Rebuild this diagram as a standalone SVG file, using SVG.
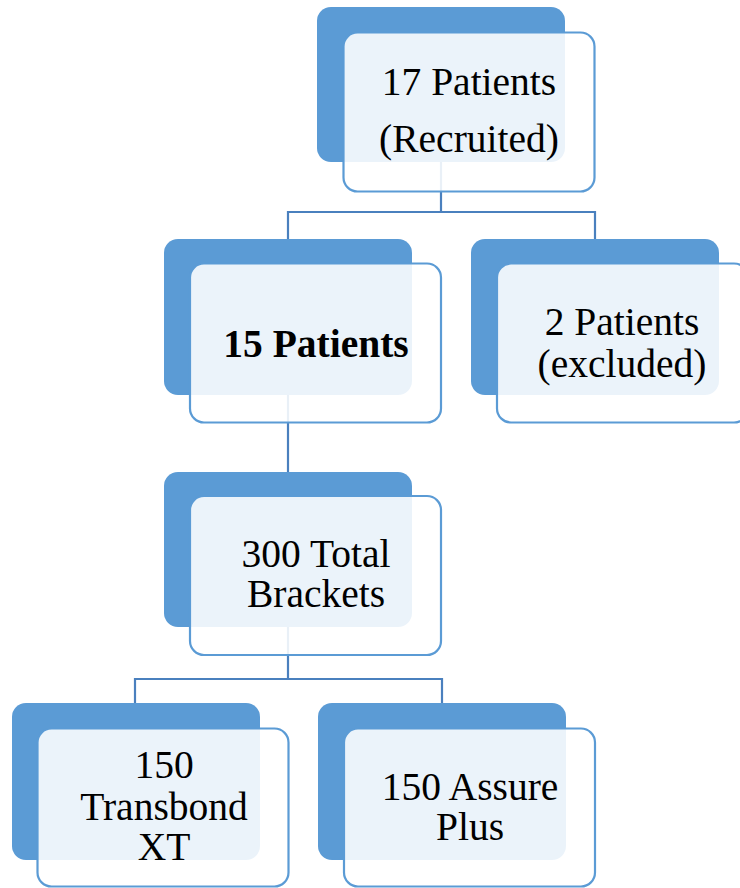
<svg xmlns="http://www.w3.org/2000/svg" width="740" height="888" viewBox="0 0 740 888">
<style>
.back{fill:#5B9BD5;}
.front{fill:#FFFFFF;fill-opacity:0.88;stroke:#5B9BD5;stroke-width:2.2;}
.conn{fill:none;stroke:#4A80BE;stroke-width:2.2;}
text{font-family:"Liberation Serif","Times New Roman",serif;font-size:39.5px;fill:#000;text-anchor:middle;}
.b{font-weight:bold;}
</style>
<rect width="740" height="888" fill="#FFFFFF"/>
<g id="connectors">
<path class="conn" d="M441,162 V212 M288,239 V212 H595 V239"/>
<path class="conn" d="M288,395 V472"/>
<path class="conn" d="M288,627 V679 M135,703 V679 H442 V703"/>
</g>
<g id="n1">
<rect class="back" x="317" y="7" width="248" height="155" rx="14"/>
<rect class="front" x="343.5" y="32.5" width="251" height="159" rx="14"/>
<text x="469" y="95">17 Patients</text>
<text x="469" y="152">(Recruited)</text>
</g>
<g id="n2">
<rect class="back" x="164" y="239" width="248" height="156" rx="14"/>
<rect class="front" x="190" y="263.5" width="251" height="159" rx="14"/>
<text class="b" x="316" y="357">15 Patients</text>
</g>
<g id="n3">
<rect class="back" x="471" y="239" width="248" height="156" rx="14"/>
<rect class="front" x="497" y="263.5" width="251" height="159" rx="14"/>
<text x="622" y="335">2 Patients</text>
<text x="622" y="377">(excluded)</text>
</g>
<g id="n4">
<rect class="back" x="164" y="472" width="248" height="155" rx="14"/>
<rect class="front" x="190" y="496" width="251" height="159" rx="14"/>
<text x="316" y="567">300 Total</text>
<text x="316" y="607">Brackets</text>
</g>
<g id="n5">
<rect class="back" x="12" y="703" width="248" height="157" rx="14"/>
<rect class="front" x="37.5" y="728.5" width="251" height="158" rx="14"/>
<text x="164" y="778">150</text>
<text x="164" y="820">Transbond</text>
<text x="164" y="860">XT</text>
</g>
<g id="n6">
<rect class="back" x="318" y="703" width="248" height="157" rx="14"/>
<rect class="front" x="344" y="728.5" width="251" height="158" rx="14"/>
<text x="470" y="800">150 Assure</text>
<text x="470" y="840">Plus</text>
</g>
</svg>
